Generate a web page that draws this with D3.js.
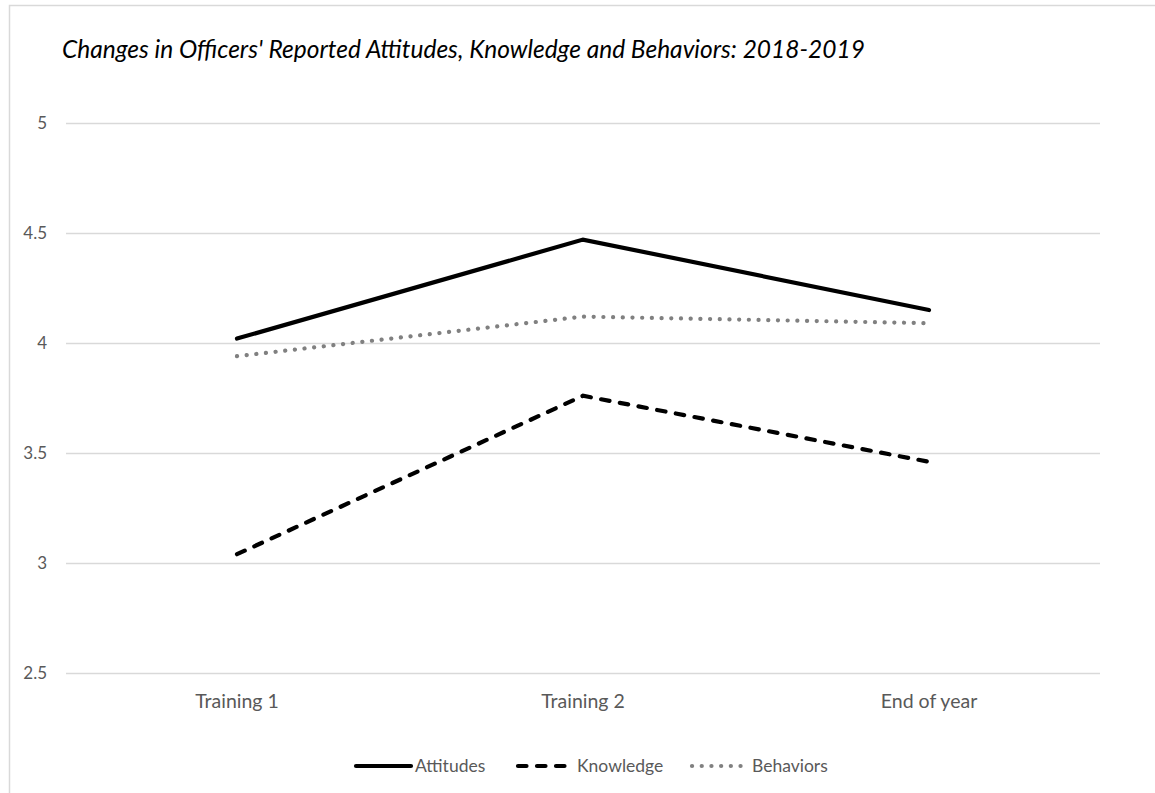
<!DOCTYPE html>
<html><head><meta charset="utf-8">
<script src="https://cdn.jsdelivr.net/npm/d3@7"></script>
<style>body{margin:0;background:#fff}svg{display:block}</style>
</head><body>
<svg id="c" width="1155" height="793"></svg>
<script>
const categories = ["Training 1", "Training 2", "End of year"];
const attitudes = [4.02, 4.47, 4.15];
const knowledge = [3.04, 3.76, 3.46];
const behaviors = [3.94, 4.12, 4.09];
const yTicks = [2.5, 3, 3.5, 4, 4.5, 5];
const seriesNames = ["Attitudes", "Knowledge", "Behaviors"];

(function () {
const svg = d3.select("#c");
const font = "Lato, 'Open Sans', sans-serif";

// chart frame
svg.append("rect").attr("x", 9.5).attr("y", 5.5).attr("width", 1200).attr("height", 800)
  .attr("fill", "none").attr("stroke", "#d9d9d9").attr("stroke-width", 1.5);

const mLeft = 64, mRight = 1102, mTop = 123, mBottom = 673;
const x = d3.scaleBand().domain(categories).range([mLeft, mRight]);
const y = d3.scaleLinear().domain([2.5, 5]).range([mBottom, mTop]);

// title
svg.append("text").attr("x", 62).attr("y", 58).text("Changes in Officers' Reported Attitudes, Knowledge and Behaviors: 2018-2019")
  .attr("font-family", font).attr("font-style", "italic").attr("font-size", 24.5).attr("fill", "#000");

// gridlines
const yAxis = d3.axisLeft(y).tickValues(yTicks).tickSize(-(mRight - mLeft - 4)).tickFormat(d => d);
const gy = svg.append("g").attr("transform", `translate(${mLeft + 2},0)`).call(yAxis);
gy.select(".domain").remove();
gy.selectAll(".tick line").attr("stroke", "#d9d9d9").attr("stroke-width", 1.3);
gy.selectAll(".tick text").attr("x", -19).attr("font-family", font).attr("font-size", 17).attr("fill", "#595959");

// x axis labels
const xAxis = d3.axisBottom(x).tickSize(0).tickPadding(21);
const gx = svg.append("g").attr("transform", `translate(0,${mBottom})`).call(xAxis);
gx.select(".domain").remove();
gx.selectAll(".tick text").attr("font-family", font).attr("font-size", 19.5).attr("fill", "#595959");

const styles = [
  {color: "#000", width: 4.2, dash: null, cap: "round"},
  {color: "#000", width: 4.2, dash: "8.5 10.5", cap: "round"},
  {color: "#808080", width: 4.2, dash: "0.1 9.6", cap: "round"}
];
const data = [attitudes, knowledge, behaviors];
const line = d3.line().x((d, i) => x(categories[i]) + x.bandwidth() / 2).y(d => y(d));

data.forEach((s, k) => {
  const st = styles[k];
  svg.append("path").datum(s).attr("d", line).attr("fill", "none")
    .attr("stroke", st.color).attr("stroke-width", st.width)
    .attr("stroke-linecap", st.cap).attr("stroke-linejoin", "miter")
    .attr("stroke-dasharray", st.dash);
});

// legend
const legendItems = [
  {x1: 356, x2: 411, tx: 415},
  {x1: 518, x2: 567, tx: 577},
  {x1: 692, x2: 742, tx: 752}
];
const ly = 766;
seriesNames.forEach((n, k) => {
  const st = styles[k], li = legendItems[k];
  svg.append("line").attr("x1", li.x1).attr("x2", li.x2).attr("y1", ly).attr("y2", ly)
    .attr("stroke", st.color).attr("stroke-width", st.width)
    .attr("stroke-linecap", st.cap).attr("stroke-dasharray", st.dash);
  svg.append("text").attr("x", li.tx).attr("y", ly).attr("dy", "0.35em").text(n)
    .attr("font-family", font).attr("font-size", 17.5).attr("fill", "#595959");
});
})();
</script>
</body></html>
